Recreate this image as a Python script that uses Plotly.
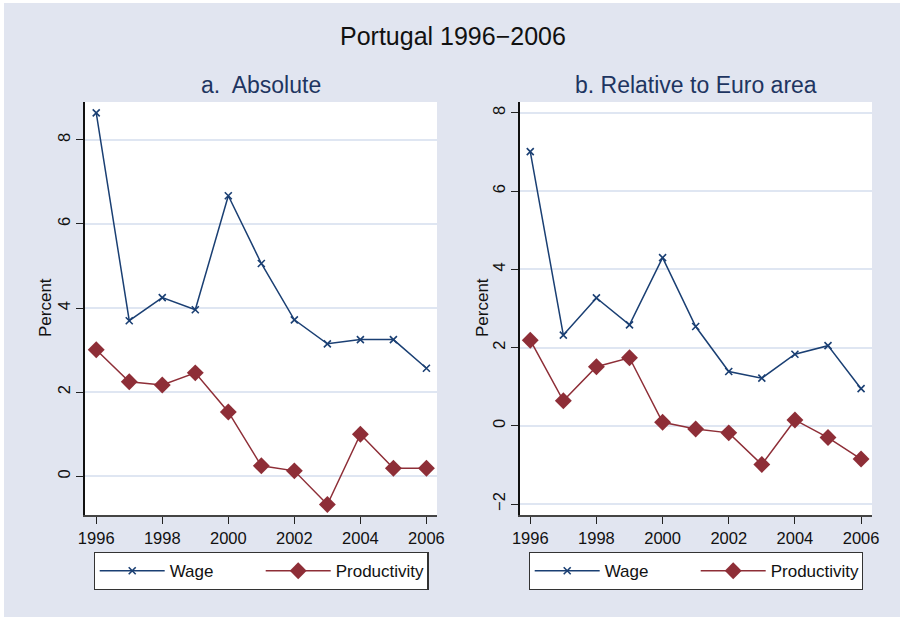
import plotly.graph_objects as go

years = [1996, 1997, 1998, 1999, 2000, 2001, 2002, 2003, 2004, 2005, 2006]

wage_abs = [8.64, 3.70, 4.25, 3.96, 6.67, 5.06, 3.72, 3.15, 3.25, 3.25, 2.57]
prod_abs = [3.01, 2.25, 2.17, 2.46, 1.53, 0.25, 0.13, -0.67, 1.00, 0.19, 0.19]

wage_rel = [7.01, 2.32, 3.27, 2.58, 4.30, 2.54, 1.39, 1.22, 1.83, 2.05, 0.95]
prod_rel = [2.19, 0.64, 1.51, 1.74, 0.09, -0.08, -0.18, -0.99, 0.15, -0.30, -0.85]

x_ticks = [1996, 1998, 2000, 2002, 2004, 2006]
y_ticks_abs = [0, 2, 4, 6, 8]
y_ticks_rel = [-2, 0, 2, 4, 6, 8]

NAVY = '#1A3F73'
MAROON = '#8E2E37'
BG = '#E1E5F0'
GRID = '#DFE6F2'
FONT = 'Liberation Sans, Arial, sans-serif'
W, H = 900, 617


def px(x):
    return x / W


def py(y):
    return 1 - y / H


fig = go.Figure()

panels = [
    (wage_abs, prod_abs, 'x', 'y', 'legend'),
    (wage_rel, prod_rel, 'x2', 'y2', 'legend2'),
]
for wage, prod, xa, ya, leg in panels:
    fig.add_trace(go.Scatter(
        x=years, y=wage, name='Wage', mode='lines+markers',
        line=dict(color=NAVY, width=1.5),
        marker=dict(symbol='x-thin', size=7, line=dict(color=NAVY, width=1.6)),
        xaxis=xa, yaxis=ya, legend=leg))
    fig.add_trace(go.Scatter(
        x=years, y=prod, name='Productivity', mode='lines+markers',
        line=dict(color=MAROON, width=1.5),
        marker=dict(symbol='diamond', size=13, color=MAROON),
        xaxis=xa, yaxis=ya, legend=leg))

xaxis_common = dict(
    tickvals=x_ticks, ticks='outside', ticklen=7, tickwidth=1, tickcolor='#222',
    showline=True, linecolor='#444', linewidth=1.5, showgrid=False, zeroline=False,
    automargin=False, tickfont=dict(size=16.5, color='#111', family=FONT),
)
yaxis_common = dict(
    ticks='outside', ticklen=7, tickwidth=1, tickcolor='#222', tickangle=-90,
    showline=True, linecolor='#111', linewidth=1.5, showgrid=True, gridcolor=GRID,
    gridwidth=1.5, zeroline=False, automargin=False,
    tickfont=dict(size=16.5, color='#111', family=FONT),
)

legend_common = dict(
    orientation='h', xanchor='center', yanchor='top', bgcolor='white',
    bordercolor='#333', borderwidth=1.2, font=dict(size=17, color='#111', family=FONT),
    itemwidth=65, entrywidth=86, entrywidthmode='pixels', tracegroupgap=0,
)

fig.update_layout(
    width=W, height=H,
    margin=dict(l=0, r=0, t=0, b=0),
    paper_bgcolor=BG, plot_bgcolor='white',
    font=dict(family=FONT),
    xaxis=dict(domain=[px(85), px(437)], range=[1995.66, 2006.32], anchor='y', **xaxis_common),
    yaxis=dict(domain=[py(515), py(102)], range=[-0.92, 8.9], tickvals=y_ticks_abs,
               anchor='x', **yaxis_common),
    xaxis2=dict(domain=[px(520), px(872)], range=[1995.69, 2006.33], anchor='y2', **xaxis_common),
    yaxis2=dict(domain=[py(515), py(102)], range=[-2.28, 8.28], tickvals=y_ticks_rel,
                ticktext=[str(v).replace('-', '\u2212') for v in y_ticks_rel],
                anchor='x2', **yaxis_common),
    legend=dict(x=px(261), y=py(552), **legend_common),
    legend2=dict(x=px(696), y=py(552), **legend_common),
    showlegend=True,
)

annotations = [
    dict(text='Portugal 1996\u22122006', x=px(453), y=py(36), font=dict(size=25, color='#111')),
    dict(text='a.  Absolute', x=px(261), y=py(85), font=dict(size=23, color='#1E3561')),
    dict(text='b. Relative to Euro area', x=px(696), y=py(85), font=dict(size=23, color='#1E3561')),
    dict(text='Percent', x=px(45), y=py(308), textangle=-90, font=dict(size=17, color='#111')),
    dict(text='Percent', x=px(482), y=py(308), textangle=-90, font=dict(size=17, color='#111')),
]
for a in annotations:
    fig.add_annotation(xref='paper', yref='paper', showarrow=False,
                       xanchor='center', yanchor='middle', **a)

# thin white strips at the top and left edge of the picture
fig.add_shape(type='rect', xref='paper', yref='paper', x0=0, x1=1, y0=py(3), y1=1,
              fillcolor='white', line_width=0)
fig.add_shape(type='rect', xref='paper', yref='paper', x0=0, x1=px(4), y0=0, y1=1,
              fillcolor='white', line_width=0)

fig.write_html("out.html", config={'displayModeBar': False},
               post_script="document.body.style.margin='0px';")
